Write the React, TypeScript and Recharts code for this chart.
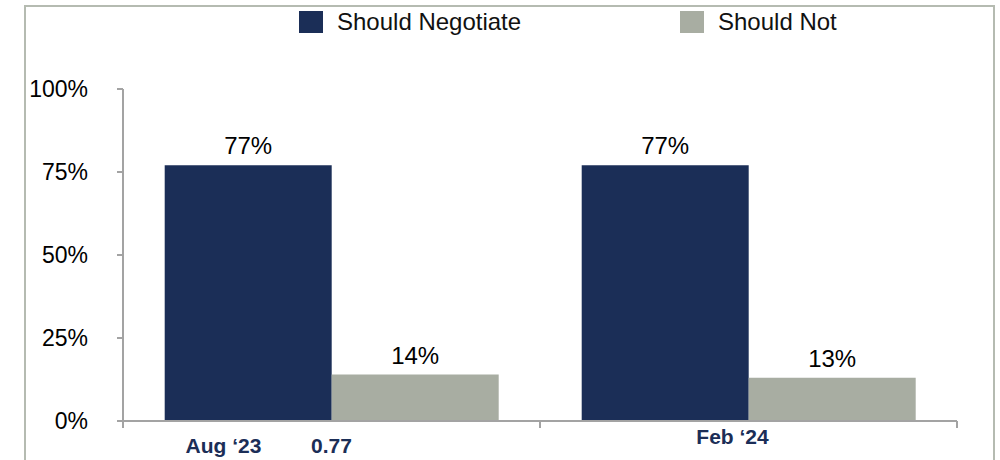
import { BarChart, Bar, XAxis, YAxis, LabelList } from "recharts";

const categories = ["Aug \u201823", "Feb \u201824"];
const extraTickText = ["0.77", ""];
const shouldNegotiate = [0.77, 0.77];
const shouldNot = [0.14, 0.13];
const yTicks = [0, 0.25, 0.5, 0.75, 1];

const data = categories.map((name, i) => ({
  name,
  negotiate: shouldNegotiate[i],
  not: shouldNot[i],
}));

const NAVY = "#1b2e57";
const GREY = "#a8ada2";
const AXIS = "#a3a3a3";
const FONT = "'Liberation Sans', Arial, sans-serif";

const pct = (v: number) => `${Math.round(v * 100)}%`;

// category labels sit off-centre like the source; tick marks go on the band edges
const CatTick = (props: any) => {
  const { x, y, index, visibleTicksCount } = props;
  const band = (props.width ?? 834) / (visibleTicksCount || categories.length);
  const extra = extraTickText[index];
  const style = { fontFamily: FONT, fontSize: 21, fontWeight: 700, fill: NAVY };
  const edges = [x - band / 2];
  if (index === categories.length - 1) edges.push(x + band / 2);
  return (
    <g>
      {edges.map((ex) => (
        <line key={ex} x1={ex} x2={ex} y1={y} y2={y + 7} stroke={AXIS} strokeWidth={2} />
      ))}
      {extra ? (
        <>
          <text x={x - 108} y={y + 32} textAnchor="middle" style={style}>
            {categories[index]}
          </text>
          <text x={x} y={y + 32} textAnchor="middle" style={style}>
            {extra}
          </text>
        </>
      ) : (
        <text x={x - 16} y={y + 23} textAnchor="middle" style={style}>
          {categories[index]}
        </text>
      )}
    </g>
  );
};

export default function App() {
  return (
    <div style={{ position: "absolute", left: 0, top: 0, width: 1000, height: 460, overflow: "hidden", background: "#fff" }}>
      <div
        style={{
          position: "absolute",
          left: 24,
          top: 5,
          width: 967,
          height: 500,
          border: "2px solid #b5bbb1",
          borderBottom: "none",
        }}
      />
      <div
        style={{
          position: "absolute",
          left: 299,
          top: 9,
          display: "flex",
          fontFamily: FONT,
          fontSize: 24,
          color: "#111",
          lineHeight: "26px",
        }}
      >
        <div style={{ display: "flex", alignItems: "center", width: 381 }}>
          <span style={{ width: 24, height: 22, background: NAVY, marginRight: 14 }} />
          Should Negotiate
        </div>
        <div style={{ display: "flex", alignItems: "center" }}>
          <span style={{ width: 24, height: 22, background: GREY, marginRight: 14 }} />
          Should Not
        </div>
      </div>
      <BarChart
        width={1000}
        height={460}
        data={data}
        margin={{ top: 89, right: 43, left: 25, bottom: 0 }}
        barCategoryGap="10%"
        barGap={0}
        style={{ position: "absolute", left: 0, top: 0 }}
      >
        <XAxis
          dataKey="name"
          height={39}
          tick={<CatTick />}
          tickLine={false}
          tickSize={0}
          tickMargin={0}
          axisLine={{ stroke: AXIS, strokeWidth: 2 }}
          interval={0}
        />
        <YAxis
          domain={[0, 1]}
          ticks={yTicks}
          tickFormatter={pct}
          width={98}
          tickSize={6}
          tickMargin={29}
          axisLine={{ stroke: AXIS, strokeWidth: 2 }}
          tickLine={{ stroke: AXIS, strokeWidth: 2 }}
          tick={{ fill: "#000", fontSize: 23, fontFamily: FONT }}
        />
        <Bar dataKey="negotiate" fill={NAVY} isAnimationActive={false}>
          <LabelList dataKey="negotiate" position="top" offset={11} formatter={pct} style={{ fill: "#000", fontSize: 24, fontFamily: FONT }} />
        </Bar>
        <Bar dataKey="not" fill={GREY} isAnimationActive={false}>
          <LabelList dataKey="not" position="top" offset={11} formatter={pct} style={{ fill: "#000", fontSize: 24, fontFamily: FONT }} />
        </Bar>
      </BarChart>
    </div>
  );
}
